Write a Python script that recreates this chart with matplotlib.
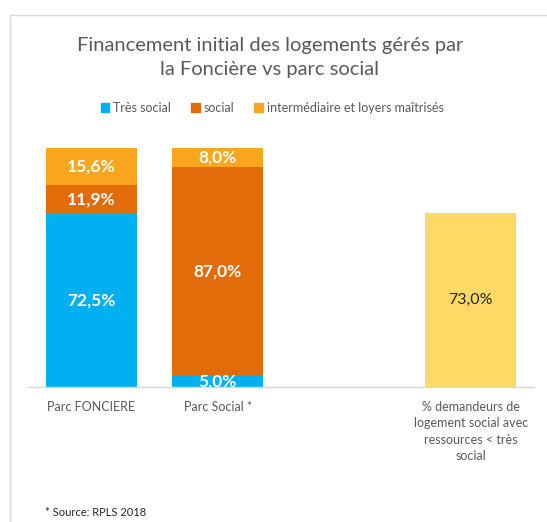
import numpy as np
import matplotlib
matplotlib.use("Agg")
import matplotlib.pyplot as plt
from matplotlib.patches import Rectangle

plt.rcParams['font.family'] = ['Lato', 'DejaVu Sans']

categories = ["Parc FONCIERE", "Parc Social *", "",
              "% demandeurs de\nlogement social avec\nressources < très\nsocial"]
tres_social = [72.5, 5.0, np.nan, np.nan]
social = [11.9, 87.0, np.nan, np.nan]
intermediaire = [15.6, 8.0, np.nan, np.nan]
demandeurs = [np.nan, np.nan, np.nan, 73.0]
series_names = ["Très social", "social", "intermédiaire et loyers maîtrisés"]
title = "Financement initial des logements gérés par\nla Foncière vs parc social"
source = "* Source: RPLS 2018"

colors = ["#00B0F0", "#E36C0A", "#F9A51E"]
c_dem = "#FFD966"
gray = "#595959"

fig = plt.figure(figsize=(5.47, 5.22), dpi=100)
# chart frame
fig.patches.append(Rectangle((10/547, -0.1), 1.0, (522-15)/522 + 0.1, transform=fig.transFigure,
                             fill=False, edgecolor="#D9D9D9", linewidth=1.0))

ax = fig.add_axes([28/547, 135/522, 506/547, 239/522])
x = np.arange(len(categories))
w = 0.72
bottom = np.zeros(len(categories))
for name, vals, col in zip(series_names, [tres_social, social, intermediaire], colors):
    v = np.array(vals, dtype=float)
    ax.bar(x, np.nan_to_num(v), w, bottom=bottom, color=col, label=name)
    for xi, vi, bi in zip(x, v, bottom):
        if not np.isnan(vi):
            ax.text(xi, bi + vi / 2, f"{vi:.1f}%".replace(".", ","), ha="center", va="center",
                    color="white", fontsize=12.5, fontweight="bold", clip_on=True)
    bottom = bottom + np.nan_to_num(v)

d = np.array(demandeurs, dtype=float)
ax.bar(x, np.nan_to_num(d), w, color=c_dem)
for xi, vi in zip(x, d):
    if not np.isnan(vi):
        ax.text(xi, vi / 2, f"{vi:.1f}%".replace(".", ","), ha="center", va="center",
                color="#262626", fontsize=11.5)

ax.set_xlim(-0.5, len(categories) - 0.5)
ax.set_ylim(0, 100)
ax.set_yticks([])
ax.set_xticks(x)
ax.set_xticklabels(categories, fontsize=9, color=gray, linespacing=1.45)
ax.tick_params(axis="x", length=0, pad=10)
for s in ["top", "right", "left"]:
    ax.spines[s].set_visible(False)
ax.spines["bottom"].set_color("#D9D9D9")
ax.spines["bottom"].set_linewidth(1.0)

fig.text(270/547, 1 - 58/522, title, ha="center", va="center", fontsize=14.5,
         color=gray, linespacing=1.5)

handles = [Rectangle((0, 0), 1, 1, color=c) for c in colors]
fig.legend(handles, series_names, loc="center", bbox_to_anchor=(272/547, 1 - 108/522),
           ncol=3, frameon=False, fontsize=9, handlelength=0.7, handleheight=0.7,
           handletextpad=0.3, columnspacing=1.6, labelcolor=gray)

fig.text(45/547, 1 - 513/522, source, ha="left", va="center", fontsize=8, color="#262626")

fig.savefig("out.png", dpi=100)
